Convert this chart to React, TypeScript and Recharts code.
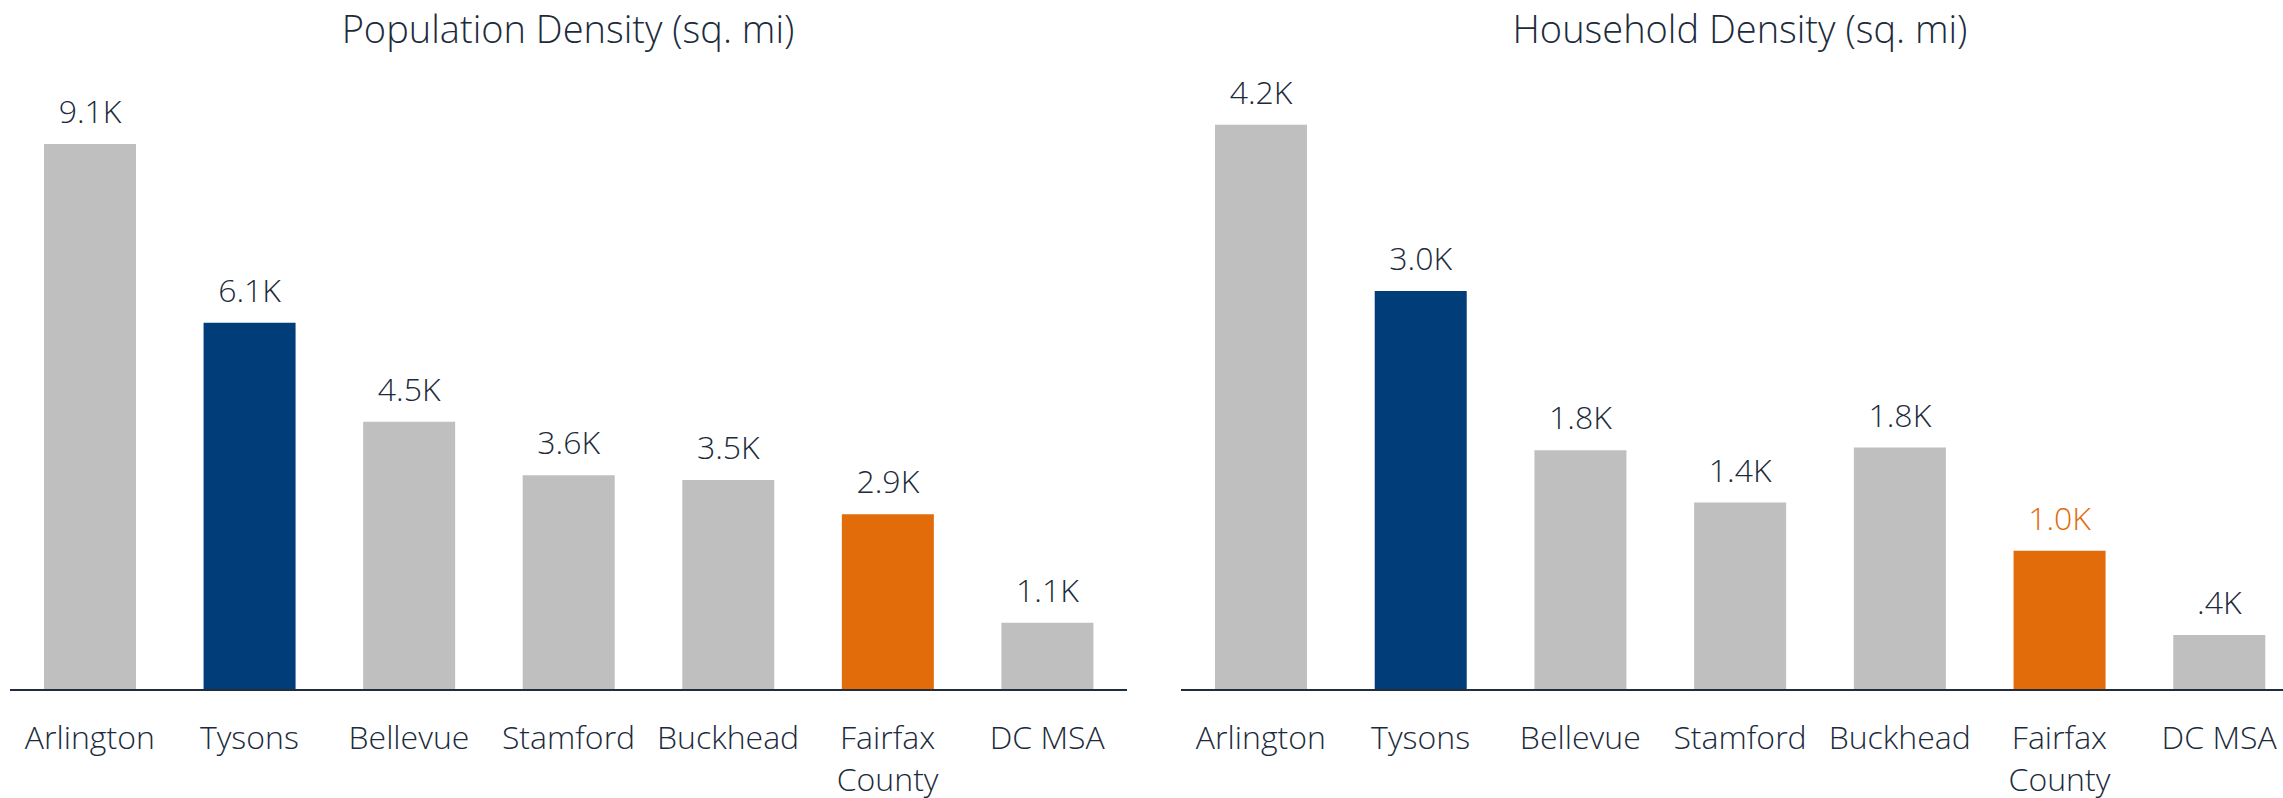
import React from 'react';
import { BarChart, Bar, XAxis, YAxis, Cell, LabelList } from 'recharts';

const categories = ['Arlington', 'Tysons', 'Bellevue', 'Stamford', 'Buckhead', 'Fairfax County', 'DC MSA'];
const populationDensity = [9100, 6120, 4470, 3580, 3500, 2930, 1120];
const householdDensity = [4220, 2980, 1790, 1400, 1810, 1040, 410];
const barColors = ['#bfbfbf', '#003d79', '#bfbfbf', '#bfbfbf', '#bfbfbf', '#e36c0a', '#bfbfbf'];
const popLabelColors = ['#1c2b3c', '#1c2b3c', '#1c2b3c', '#1c2b3c', '#1c2b3c', '#1c2b3c', '#1c2b3c'];
const hhLabelColors = ['#1c2b3c', '#1c2b3c', '#1c2b3c', '#1c2b3c', '#1c2b3c', '#e36c0a', '#1c2b3c'];
const titles = ['Population Density (sq. mi)', 'Household Density (sq. mi)'];

const FONT = '"Open Sans", "Noto Sans", sans-serif';
const TEXT = '#1c2b3c';

const popData = categories.map((c, i) => ({ name: c, value: populationDensity[i] }));
const hhData = categories.map((c, i) => ({ name: c, value: householdDensity[i] }));

const fmt = (v: number) => {
  const s = (v / 1000).toFixed(1);
  return (s.startsWith('0') ? s.slice(1) : s) + 'K';
};

const CategoryTick = (props: any) => {
  const { x, y, payload } = props;
  const label = String(payload.value);
  const lines = label.length > 10 ? label.split(' ') : [label];
  return (
    <text
      x={x}
      y={y}
      textAnchor="middle"
      fontSize={32}
      fontWeight={300}
      fontFamily={FONT}
      fill={TEXT}
    >
      {lines.map((ln, i) => (
        <tspan key={i} x={x} dy={i === 0 ? 23 : 42}>
          {ln}
        </tspan>
      ))}
    </text>
  );
};

const makeLabel = (colors: string[]) => (props: any) => {
  const { x, y, width, value, index } = props;
  return (
    <text
      x={Number(x) + Number(width) / 2}
      y={Number(y) - 21}
      textAnchor="middle"
      fontSize={32}
      fontWeight={300}
      fontFamily={FONT}
      fill={colors[index]}
    >
      {fmt(Number(value))}
    </text>
  );
};

const Panel = ({ data, max, labelColors, margin, width }: any) => (
  <BarChart width={width} height={798} data={data} margin={margin}>
    <YAxis hide domain={[0, max]} />
    <XAxis
      dataKey="name"
      height={108}
      interval={0}
      tickSize={0}
      tickMargin={36}
      tickLine={false}
      axisLine={{ stroke: '#1f2d3d', strokeWidth: 2 }}
      tick={<CategoryTick />}
    />
    <Bar dataKey="value" barSize={92} isAnimationActive={false}>
      {data.map((_: any, i: number) => (
        <Cell key={i} fill={barColors[i]} />
      ))}
      <LabelList dataKey="value" content={makeLabel(labelColors)} />
    </Bar>
  </BarChart>
);

const titleStyle = (centerX: number): React.CSSProperties => ({
  position: 'absolute',
  top: 9,
  left: centerX - 400,
  width: 800,
  textAlign: 'center',
  fontFamily: FONT,
  fontWeight: 300,
  fontSize: 38,
  lineHeight: '38px',
  color: TEXT,
  whiteSpace: 'nowrap',
});

export default function App() {
  return (
    <div
      style={{
        position: 'fixed',
        left: 0,
        top: 0,
        width: 2283,
        height: 798,
        overflow: 'hidden',
        background: '#ffffff',
      }}
    >
      <div style={{ position: 'absolute', left: 0, top: 0 }}>
        <Panel
          data={popData}
          max={10000}
          labelColors={popLabelColors}
          width={1140}
          margin={{ top: 90, right: 13, bottom: 0, left: 10 }}
        />
      </div>
      <div style={{ position: 'absolute', left: 1141, top: 0 }}>
        <Panel
          data={hhData}
          max={4480}
          labelColors={hhLabelColors}
          width={1160}
          margin={{ top: 90, right: 2, bottom: 0, left: 40 }}
        />
      </div>
      <div style={titleStyle(568)}>{titles[0]}</div>
      <div style={titleStyle(1740)}>{titles[1]}</div>
    </div>
  );
}
